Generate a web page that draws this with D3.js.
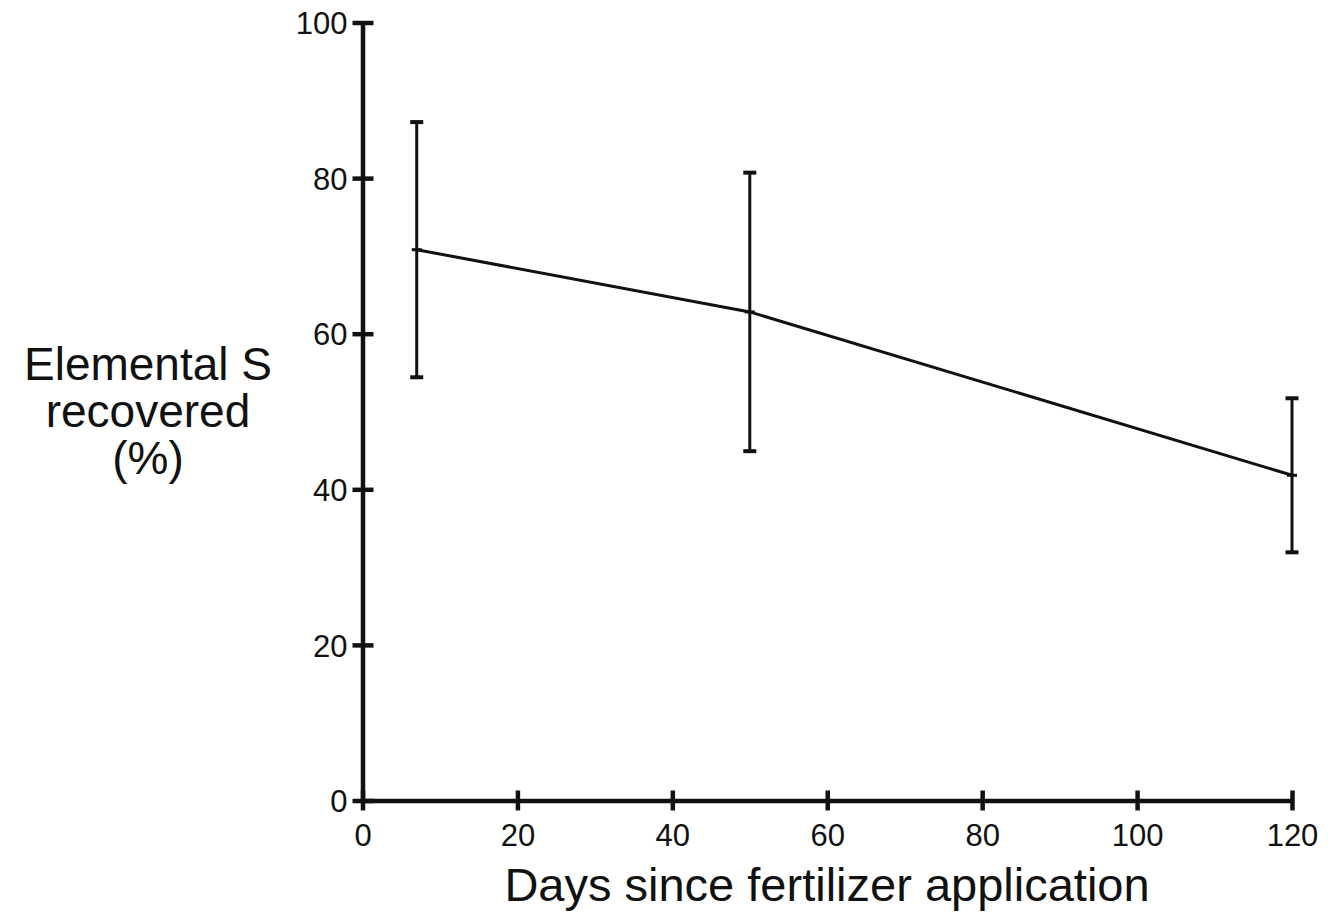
<!DOCTYPE html>
<html lang="en">
<head>
    <meta charset="UTF-8">
    <title>Elemental S recovered</title>
    <script src="https://d3js.org/d3.v7.min.js"></script>
    <style>
        body { margin: 0; background: #fff; }
        svg { font-family: "Liberation Sans", Arial, sans-serif; }
    </style>
</head>
<body>
    <script>
        const width = 1328;
        const height = 914;

        // data
        const days = [7, 50, 120];
        const recovered = [70.8, 62.8, 41.8];
        const errUpper = [87.2, 80.7, 51.7];
        const errLower = [54.4, 44.9, 31.9];
        const xTicks = [0, 20, 40, 60, 80, 100, 120];
        const yTicks = [0, 20, 40, 60, 80, 100];
        const yLabelLines = ["Elemental S", "recovered", "(%)"];

        const x = d3.scaleLinear().domain([0, 120]).range([362.5, 1292]);
        const y = d3.scaleLinear().domain([0, 100]).range([800.5, 22.5]);

        const svg = d3.select("body").append("svg")
            .attr("width", width)
            .attr("height", height);

        // axes
        const yAxis = svg.append("g")
            .attr("transform", `translate(${x(0)},0)`)
            .call(d3.axisLeft(y).tickValues(yTicks).tickSize(10).tickSizeOuter(0).tickPadding(6));
        const xAxis = svg.append("g")
            .attr("transform", `translate(0,${y(0)})`)
            .call(d3.axisBottom(x).tickValues(xTicks).tickSize(10).tickSizeOuter(0).tickPadding(13));

        [yAxis, xAxis].forEach(g => {
            g.select(".domain").attr("stroke", "#111").attr("stroke-width", 4.5);
            g.selectAll(".tick text").attr("fill", "#111").style("font-size", "31px");
        });
        // ticks cross the axis line on both sides
        yAxis.selectAll(".tick line").attr("x1", 11).attr("x2", -10).attr("stroke", "#111").attr("stroke-width", 4.5);
        xAxis.selectAll(".tick line").attr("y1", -10).attr("y2", 10).attr("stroke", "#111").attr("stroke-width", 4.5);
        yAxis.selectAll(".tick text").attr("x", -15).attr("dy", "0.36em");
        xAxis.selectAll(".tick text").attr("dy", "0.71em");

        const pts = days.map((d, i) => ({ d, v: recovered[i], hi: errUpper[i], lo: errLower[i] }));

        // mean line
        svg.append("path")
            .datum(pts)
            .attr("fill", "none")
            .attr("stroke", "#111")
            .attr("stroke-width", 3)
            .attr("d", d3.line().x(p => x(p.d)).y(p => y(p.v)));

        // error bars
        const eb = svg.append("g").attr("stroke", "#111").attr("stroke-width", 3);
        eb.selectAll(".bar").data(pts).enter().append("line")
            .attr("x1", p => x(p.d)).attr("x2", p => x(p.d))
            .attr("y1", p => y(p.hi)).attr("y2", p => y(p.lo));
        eb.selectAll(".capHi").data(pts).enter().append("line")
            .attr("x1", p => x(p.d) - 6.5).attr("x2", p => x(p.d) + 6.5)
            .attr("y1", p => y(p.hi)).attr("y2", p => y(p.hi))
            .attr("stroke-width", 4);
        eb.selectAll(".capLo").data(pts).enter().append("line")
            .attr("x1", p => x(p.d) - 6.5).attr("x2", p => x(p.d) + 6.5)
            .attr("y1", p => y(p.lo)).attr("y2", p => y(p.lo))
            .attr("stroke-width", 4);
        eb.selectAll(".mid").data(pts).enter().append("line")
            .attr("x1", p => x(p.d) - 5).attr("x2", p => x(p.d) + 5)
            .attr("y1", p => y(p.v)).attr("y2", p => y(p.v));

        // axis titles
        svg.append("text")
            .attr("x", 827)
            .attr("y", 901)
            .attr("text-anchor", "middle")
            .attr("fill", "#111")
            .style("font-size", "47px")
            .text("Days since fertilizer application");

        svg.append("text")
            .attr("text-anchor", "middle")
            .attr("fill", "#111")
            .style("font-size", "46px")
            .selectAll("tspan")
            .data(yLabelLines)
            .enter().append("tspan")
            .attr("x", 148)
            .attr("y", (d, i) => 380 + i * 47)
            .text(d => d);
    </script>
</body>
</html>
